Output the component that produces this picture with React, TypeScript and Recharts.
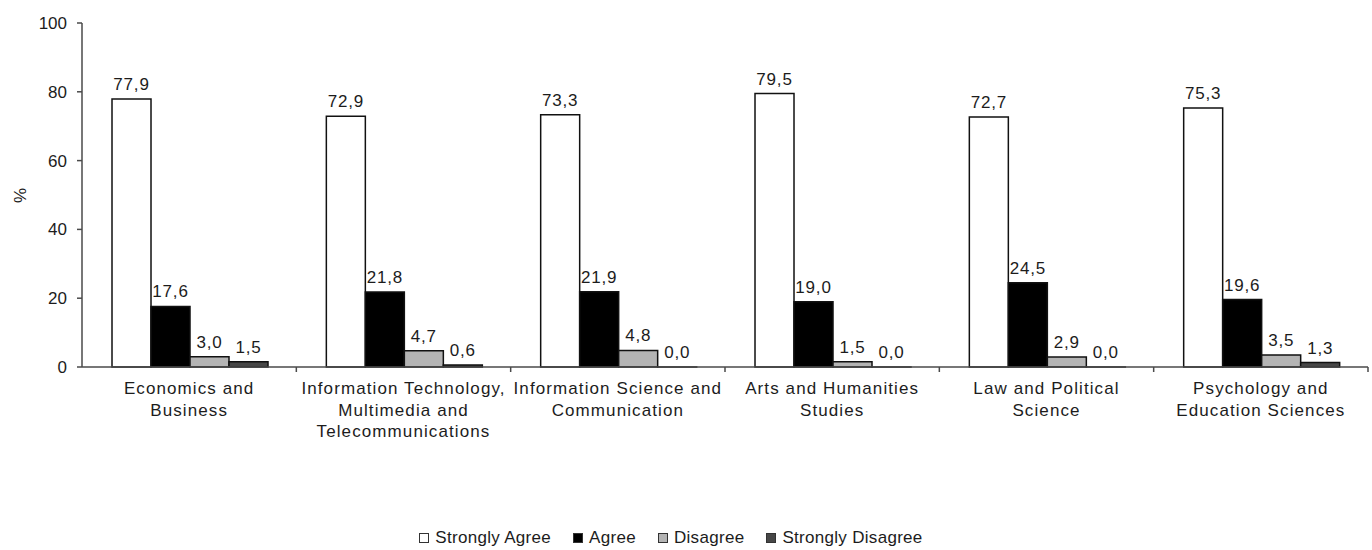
import { BarChart, Bar, XAxis, YAxis, Legend, LabelList } from 'recharts';

const CATEGORIES = [
  'Economics and Business',
  'Information Technology, Multimedia and Telecommunications',
  'Information Science and Communication',
  'Arts and Humanities Studies',
  'Law and Political Science',
  'Psychology and Education Sciences',
];

// wrapped lines for each category label
const CATEGORY_LINES = [
  ['Economics and', 'Business'],
  ['Information Technology,', 'Multimedia and', 'Telecommunications'],
  ['Information Science and', 'Communication'],
  ['Arts and Humanities', 'Studies'],
  ['Law and Political', 'Science'],
  ['Psychology and', 'Education Sciences'],
];

const STRONGLY_AGREE = [77.9, 72.9, 73.3, 79.5, 72.7, 75.3];
const AGREE = [17.6, 21.8, 21.9, 19.0, 24.5, 19.6];
const DISAGREE = [3.0, 4.7, 4.8, 1.5, 2.9, 3.5];
const STRONGLY_DISAGREE = [1.5, 0.6, 0.0, 0.0, 0.0, 1.3];

const Y_TICKS = [0, 20, 40, 60, 80, 100];

const SERIES = [
  { key: 'stronglyAgree', name: 'Strongly Agree', fill: '#ffffff' },
  { key: 'agree', name: 'Agree', fill: '#000000' },
  { key: 'disagree', name: 'Disagree', fill: '#b4b4b4' },
  { key: 'stronglyDisagree', name: 'Strongly Disagree', fill: '#474747' },
];

const data = CATEGORIES.map((name, i) => ({
  name,
  stronglyAgree: STRONGLY_AGREE[i],
  agree: AGREE[i],
  disagree: DISAGREE[i],
  stronglyDisagree: STRONGLY_DISAGREE[i],
}));

const FONT = '"Liberation Sans", Arial, sans-serif';
const TEXT = '#1c1c1c';
const AXIS = '#4a4a4a';

const WIDTH = 1372;
const HEIGHT = 550;
const PLOT_LEFT = 82;
const PLOT_RIGHT = 4;
const BAND = (WIDTH - PLOT_LEFT - PLOT_RIGHT) / CATEGORIES.length;

const fmt = (v: number) => v.toFixed(1).replace('.', ',');

function CategoryTick(props: any) {
  const { x, y, index } = props;
  const lines = CATEGORY_LINES[index] || [];
  return (
    <g>
      <line x1={x + BAND / 2} x2={x + BAND / 2} y1={y - 8} y2={y - 3} stroke={AXIS} strokeWidth={1.5} />
      <text
        x={x}
        y={y + 19}
        textAnchor="middle"
        fill={TEXT}
        fontSize={17}
        fontFamily={FONT}
        style={{ letterSpacing: 1.1 }}
      >
        {lines.map((line: string, i: number) => (
          <tspan key={i} x={x} dy={i === 0 ? 0 : 21.5}>
            {line}
          </tspan>
        ))}
      </text>
    </g>
  );
}

function LegendContent() {
  return (
    <div
      style={{
        height: 24,
        display: 'flex',
        alignItems: 'center',
        justifyContent: 'center',
        paddingRight: 30,
        fontFamily: FONT,
        fontSize: 17,
        letterSpacing: 0.3,
        color: TEXT,
      }}
    >
      {SERIES.map((s, i) => (
        <div
          key={s.key}
          style={{ display: 'flex', alignItems: 'center', marginRight: i === SERIES.length - 1 ? 0 : 22 }}
        >
          <span
            style={{
              width: 8,
              height: 8,
              background: s.fill,
              border: '1px solid #333',
              marginRight: 6,
              display: 'inline-block',
            }}
          />
          <span>{s.name}</span>
        </div>
      ))}
    </div>
  );
}

// zero values still get a (hairline) rect so their value label is drawn
const keepZero = (v: any) => (Number(v) === 0 ? 0.01 : 0);

export default function App() {
  return (
    <div style={{ position: 'absolute', left: 0, top: 0, width: WIDTH, height: HEIGHT, background: '#fff' }}>
      <BarChart
        width={WIDTH}
        height={HEIGHT}
        data={data}
        margin={{ top: 23, right: PLOT_RIGHT, left: 0, bottom: 129 }}
        barCategoryGap="14%"
        barGap={0}
      >
        <XAxis
          dataKey="name"
          interval={0}
          height={30}
          tickLine={false}
          axisLine={{ stroke: AXIS, strokeWidth: 1.5 }}
          tick={<CategoryTick />}
        />
        <YAxis
          width={PLOT_LEFT}
          domain={[0, 100]}
          ticks={Y_TICKS}
          tickSize={5}
          tickMargin={10}
          axisLine={{ stroke: AXIS, strokeWidth: 1.5 }}
          tickLine={{ stroke: AXIS, strokeWidth: 1.5 }}
          tick={{ fill: TEXT, fontSize: 17, fontFamily: FONT }}
          label={{
            value: '%',
            angle: -90,
            position: 'insideLeft',
            offset: 20,
            dy: 8,
            fill: TEXT,
            fontSize: 17,
            fontFamily: FONT,
          }}
        />
        <Legend
          verticalAlign="bottom"
          content={<LegendContent />}
          wrapperStyle={{ top: 526, bottom: 'auto', left: 0, width: WIDTH }}
        />
        {SERIES.map((s) => (
          <Bar
            key={s.key}
            dataKey={s.key}
            name={s.name}
            fill={s.fill}
            stroke="#111"
            strokeWidth={1.5}
            minPointSize={keepZero}
            isAnimationActive={false}
          >
            <LabelList
              dataKey={s.key}
              position="top"
              offset={9}
              formatter={(v: any) => fmt(Number(v))}
              fill={TEXT}
              fontSize={17}
              fontFamily={FONT}
              style={{ letterSpacing: 0.8 }}
            />
          </Bar>
        ))}
      </BarChart>
    </div>
  );
}
